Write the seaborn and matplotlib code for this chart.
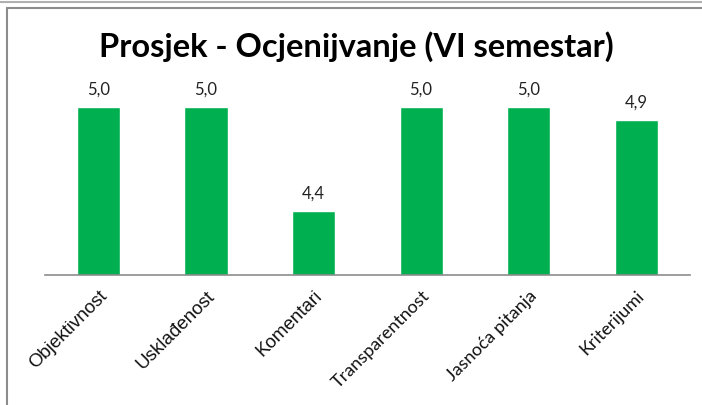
import matplotlib
matplotlib.use("Agg")
import matplotlib.pyplot as plt
from matplotlib.lines import Line2D
import pandas as pd
import seaborn as sns

# Data
categories = ['Objektivnost', 'Usklađenost', 'Komentari', 'Transparentnost', 'Jasnoća pitanja', 'Kriterijumi']
values = [5.0, 5.0, 4.38, 5.0, 5.0, 4.92]
title = 'Prosjek - Ocjenijvanje (VI semestar)'

df = pd.DataFrame({'Kategorija': categories, 'Prosjek': values})

sns.set_style('white')
fig = plt.figure(figsize=(7.02, 4.05), dpi=100)
ax = fig.add_axes([0.0637, 0.321, 0.919, 0.498])

sns.barplot(data=df, x='Kategorija', y='Prosjek', color='#00B050', width=0.4,
            saturation=1, ax=ax)

ax.set_ylim(4.0, 5.2)
ax.set_xlim(-0.5, len(categories) - 0.5)
ax.set_xlabel('')
ax.set_ylabel('')
ax.set_yticks([])
for s in ['top', 'right', 'left']:
    ax.spines[s].set_visible(False)
ax.spines['bottom'].set_color('#8c8c8c')
ax.spines['bottom'].set_linewidth(1.2)
ax.tick_params(axis='x', length=0, pad=9)

# value labels with decimal comma
labels = [f'{v:.1f}'.replace('.', ',') for v in values]
ax.bar_label(ax.containers[0], labels=labels, padding=7, fontsize=12,
             family='Lato', color='#222222')

# rotated category labels (first three look Arial, rest Calibri-like)
fams = ['Liberation Sans'] * 3 + ['Lato'] * 3
ax.set_xticks(range(len(categories)))
ax.set_xticklabels(categories)
for lab, fam in zip(ax.get_xticklabels(), fams):
    lab.set_rotation(45)
    lab.set_ha('right')
    lab.set_va('top')
    lab.set_rotation_mode('anchor')
    lab.set_fontsize(13 if fam == 'Lato' else 13.5)
    lab.set_family(fam)
    lab.set_color('#111111')

fig.text(0.507, 0.885, title, ha='center', va='center', fontsize=23.5,
         fontweight='bold', family='Lato', color='black')

# chart frame lines
fig.add_artist(Line2D([0, 1], [0.996, 0.996], color='#b0b0b0', lw=1.5))
fig.add_artist(Line2D([0.0105, 1], [0.98, 0.98], color='#8c8c8c', lw=1.5))
fig.add_artist(Line2D([0.0105, 0.0105], [0, 0.98], color='#8c8c8c', lw=1.5))

fig.savefig('out.png', dpi=100)
